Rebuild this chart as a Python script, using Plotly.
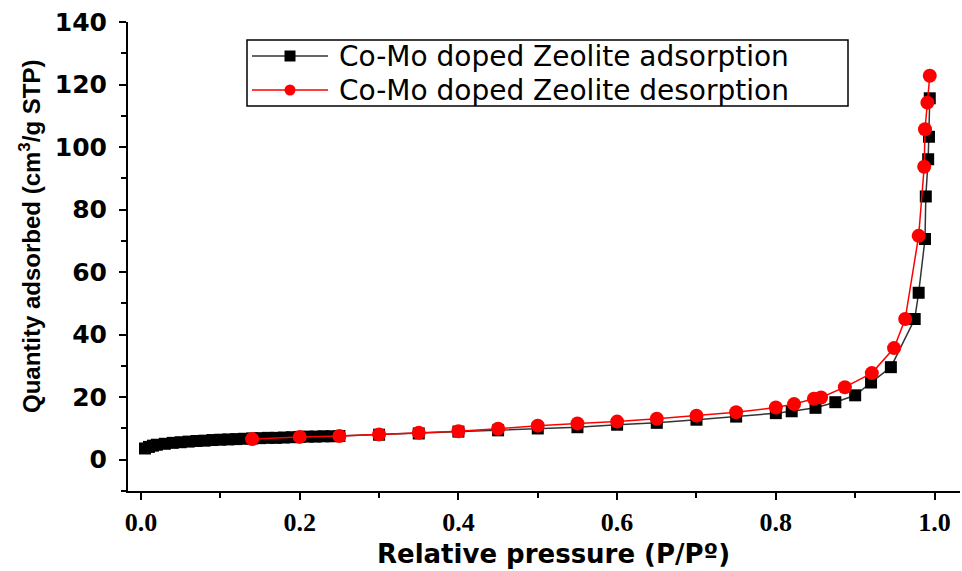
import plotly.graph_objects as go

# N2 isotherm of the Co-Mo doped zeolite
ads_p = [0.005, 0.01, 0.015, 0.02, 0.03, 0.04, 0.05, 0.06, 0.07, 0.08, 0.09,
         0.10, 0.11, 0.12, 0.13, 0.14, 0.15, 0.16, 0.17, 0.18, 0.19, 0.20,
         0.21, 0.22, 0.23, 0.24, 0.25, 0.30, 0.35, 0.40, 0.45, 0.50, 0.55,
         0.60, 0.65, 0.70, 0.75, 0.80, 0.82, 0.85, 0.875, 0.90, 0.92, 0.945,
         0.975, 0.98, 0.988, 0.989, 0.992, 0.993, 0.994]
ads_q = [3.6, 4.1, 4.5, 4.8, 5.1, 5.4, 5.6, 5.8, 6.0, 6.1, 6.3,
         6.4, 6.5, 6.6, 6.7, 6.8, 6.9, 7.0, 7.0, 7.1, 7.2, 7.3,
         7.4, 7.4, 7.5, 7.5, 7.6, 8.0, 8.4, 9.0, 9.4, 10.0, 10.4,
         11.2, 11.8, 12.8, 13.8, 14.9, 15.5, 16.6, 18.4, 20.6, 24.7, 29.6,
         45.0, 53.4, 70.6, 84.2, 96.1, 103.3, 115.6]

des_p = [0.14, 0.20, 0.25, 0.30, 0.35, 0.40, 0.45, 0.50, 0.55, 0.60, 0.65,
         0.70, 0.75, 0.80, 0.823, 0.848, 0.857, 0.887, 0.921, 0.949, 0.963,
         0.980, 0.987, 0.988, 0.991, 0.994]
des_q = [6.6, 7.3, 7.6, 8.1, 8.6, 9.1, 9.9, 10.9, 11.6, 12.2, 13.1,
         14.1, 15.2, 16.7, 17.8, 19.5, 19.9, 23.2, 27.7, 35.7, 45.0,
         71.6, 93.7, 105.7, 114.2, 122.8]

series_names = ["Co-Mo doped Zeolite adsorption", "Co-Mo doped Zeolite desorption"]
line_colors = ["#333333", "#ff0000"]
marker_colors = ["black", "#ff0000"]

x_ticks = [0.0, 0.2, 0.4, 0.6, 0.8, 1.0]
y_ticks = [0, 20, 40, 60, 80, 100, 120, 140]

W, H = 962, 571
ML, MR, MT, MB = 128, 2, 22, 80
PW, PH = W - ML - MR, H - MT - MB


def px_x(px):
    return (px - ML) / PW


def px_y(py):
    return (H - MB - py) / PH


fig = go.Figure()
fig.add_trace(go.Scatter(
    x=ads_p, y=ads_q, mode="lines+markers", name=series_names[0],
    line=dict(color=line_colors[0], width=1.5),
    marker=dict(symbol="square", size=12, color=marker_colors[0]),
))
fig.add_trace(go.Scatter(
    x=des_p, y=des_q, mode="lines+markers", name=series_names[1],
    line=dict(color=line_colors[1], width=1.5),
    marker=dict(symbol="circle", size=14, color=marker_colors[1]),
))

axis_common = dict(
    showline=True, linecolor="black", linewidth=2,
    showgrid=False, zeroline=False, ticks="outside",
    tickcolor="black", tickwidth=2, ticklen=7, mirror=False,
)

fig.update_xaxes(
    **axis_common,
    range=[-0.0164, 1.0321],
    tickvals=x_ticks, tickformat=".1f",
    tickfont=dict(family="Liberation Serif", size=26, color="black", weight="bold"),
    minor=dict(dtick=0.1, tick0=0, ticks="outside", ticklen=5,
               tickcolor="black", tickwidth=2),
    ticklabelstandoff=0,
)
fig.update_yaxes(
    **axis_common,
    range=[-10, 140],
    tickvals=y_ticks,
    tickfont=dict(family="DejaVu Sans", size=25, color="black", weight="bold"),
    minor=dict(dtick=10, tick0=0, ticks="outside", ticklen=5,
               tickcolor="black", tickwidth=2),
    ticklabelstandoff=7,
)

# axis titles
fig.add_annotation(
    text="Relative pressure (P/P\u00ba)",
    xref="paper", yref="paper", x=px_x(553), y=px_y(554),
    xanchor="center", yanchor="middle", showarrow=False, borderpad=0,
    font=dict(family="DejaVu Sans", size=26, color="black", weight="bold"),
)
fig.add_annotation(
    text="Quantity adsorbed (cm<sup>3</sup>/g STP)",
    xref="paper", yref="paper", x=px_x(30), y=px_y(237),
    xanchor="center", yanchor="middle", showarrow=False, textangle=-90,
    font=dict(family="Liberation Sans", size=24, color="black", weight="bold"),
)

# legend box with line/marker swatches
box = dict(x0=247, x1=848, y0=40, y1=106)
rows_y = [56, 90]
fig.add_shape(type="rect", xref="paper", yref="paper",
              x0=px_x(box["x0"]), x1=px_x(box["x1"]),
              y0=px_y(box["y1"]), y1=px_y(box["y0"]),
              line=dict(color="black", width=1.5), fillcolor="white", layer="above")
for i, ry in enumerate(rows_y):
    fig.add_shape(type="line", xref="paper", yref="paper",
                  x0=px_x(252), x1=px_x(328), y0=px_y(ry), y1=px_y(ry),
                  line=dict(color=line_colors[i], width=1.5), layer="above")
    half = 5.5
    fig.add_shape(type="rect" if i == 0 else "circle", xref="paper", yref="paper",
                  x0=px_x(290 - half), x1=px_x(290 + half),
                  y0=px_y(ry + half), y1=px_y(ry - half),
                  line=dict(color=marker_colors[i], width=0),
                  fillcolor=marker_colors[i], layer="above")
    fig.add_annotation(
        text=series_names[i], xref="paper", yref="paper",
        x=px_x(338), y=px_y(ry), xanchor="left", yanchor="middle",
        showarrow=False, borderpad=0,
        font=dict(family="DejaVu Sans", size=28, color="black"),
    )

fig.update_layout(
    width=W, height=H,
    margin=dict(l=ML, r=MR, t=MT, b=MB),
    plot_bgcolor="white", paper_bgcolor="white",
    showlegend=False,
)

fig.write_html("out.html")
